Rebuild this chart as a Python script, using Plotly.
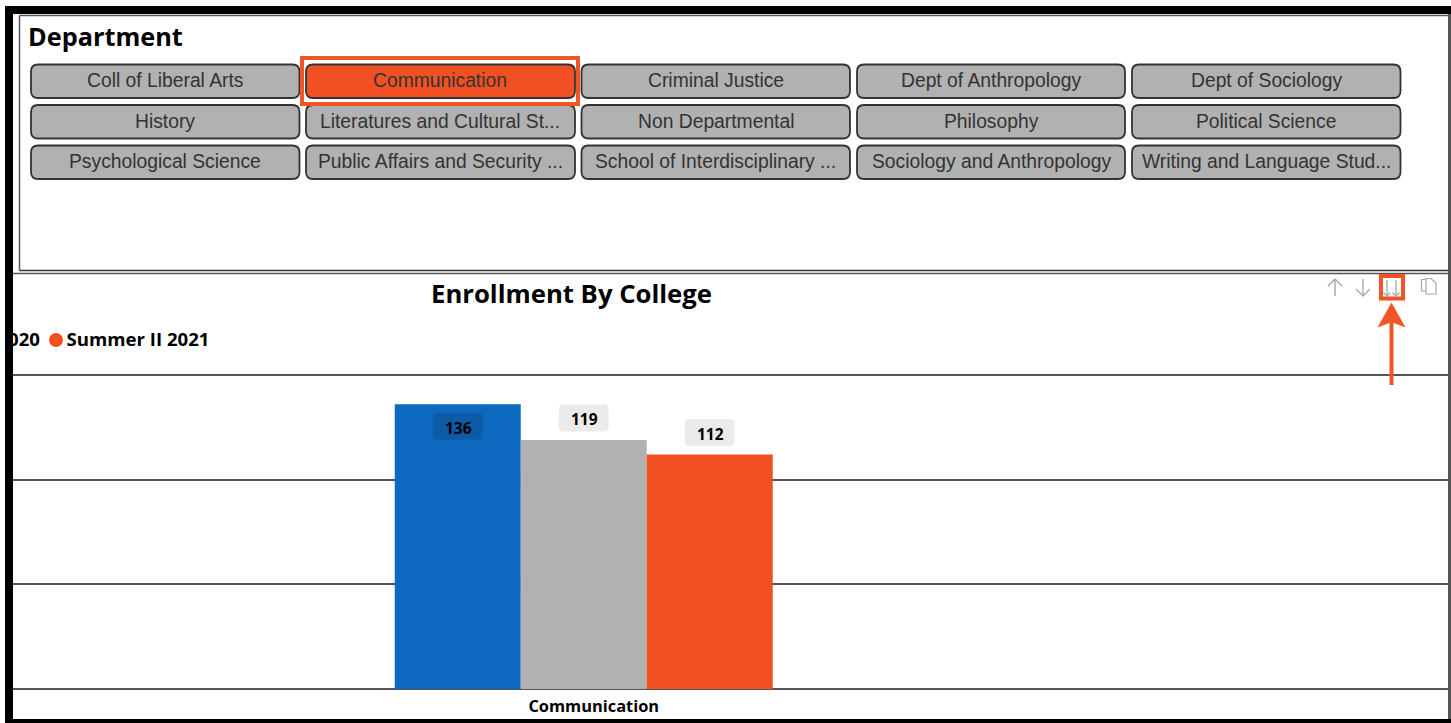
import plotly.graph_objects as go

# ---- data ----
categories = ["Communication"]
series_names = ["Summer II 2019", "Summer II 2020", "Summer II 2021"]
series_values = [[136], [119], [112]]
series_colors = ["#0D69BF", "#B1B1B1", "#F15122"]
chip_colors = ["#0D5AA6", "#EBEBEB", "#EBEBEB"]
y_ticks = [0, 50, 100, 150]

panel_title = "Department"
chart_title = "Enrollment By College"
departments = [
    ["Coll of Liberal Arts", "Communication", "Criminal Justice", "Dept of Anthropology", "Dept of Sociology"],
    ["History", "Literatures and Cultural St...", "Non Departmental", "Philosophy", "Political Science"],
    ["Psychological Science", "Public Affairs and Security ...", "School of Interdisciplinary ...",
     "Sociology and Anthropology", "Writing and Language Stud..."],
]
selected_department = "Communication"

# ---- page geometry (pixels) ----
W, H = 1451, 723
PLOT_LEFT, PLOT_RIGHT = 13, 1448
AXIS_TOP, AXIS_BOTTOM = 375, 689      # pixel rows of the highest and lowest gridline
AXIS_PAD = 5                          # keeps the outer gridlines inside the plot area
GROUP_CENTER, GROUP_WIDTH = 583.75, 378
BUTTON_X = [(31, 299.5), (306, 575), (581.5, 850), (857, 1125), (1132, 1400.5)]
BUTTON_Y = [(64.5, 98), (105, 138.5), (145.5, 179)]
LEGEND_TOP, LEGEND_BOTTOM = 325, 355
ACCENT = "#F25525"
TEXT_FONT = "Open Sans"


def fx(x):
    return x / W


def fy(y):
    return 1 - y / H


def rounded(x0, y0, x1, y1, r):
    return (
        f"M {fx(x0 + r)} {fy(y0)} L {fx(x1 - r)} {fy(y0)} Q {fx(x1)} {fy(y0)} {fx(x1)} {fy(y0 + r)} "
        f"L {fx(x1)} {fy(y1 - r)} Q {fx(x1)} {fy(y1)} {fx(x1 - r)} {fy(y1)} "
        f"L {fx(x0 + r)} {fy(y1)} Q {fx(x0)} {fy(y1)} {fx(x0)} {fy(y1 - r)} "
        f"L {fx(x0)} {fy(y0 + r)} Q {fx(x0)} {fy(y0)} {fx(x0 + r)} {fy(y0)} Z"
    )


def page_rect(x0, y0, x1, y1, fill=None, line=None, width=0):
    return dict(type="rect", xref="paper", yref="paper", x0=fx(x0), x1=fx(x1), y0=fy(y0), y1=fy(y1),
                fillcolor=fill or "rgba(0,0,0,0)", line=dict(color=line or "rgba(0,0,0,0)", width=width))


def page_path(points, color, width=1.5, fill=None):
    d = " ".join(("M" if i == 0 else "L") + f" {fx(x)} {fy(y)}" for i, (x, y) in enumerate(points))
    if fill:
        d += " Z"
    return dict(type="path", xref="paper", yref="paper", path=d,
                fillcolor=fill or "rgba(0,0,0,0)", line=dict(color=color, width=width))


def page_text(text, x, y, size, color="#000000", weight=400, family=TEXT_FONT, anchor="center"):
    return dict(text=text, xref="paper", yref="paper", x=fx(x), y=fy(y), xanchor=anchor, yanchor="middle",
                showarrow=False, font=dict(family=family, size=size, color=color, weight=weight))


shapes, notes = [], []

# outer frame and panel rules
shapes += [
    page_rect(5, 6, W, 14, fill="#000000"),
    page_rect(5, 6, 13, H, fill="#000000"),
    page_rect(5, 719, W, H, fill="#000000"),
    page_rect(1448, 14, W, 719, fill="#555555"),
    page_path([(19.5, 15.5), (1448, 15.5)], "#555555", 1.5),
    page_path([(19.5, 15.5), (19.5, 270.5)], "#555555", 1.5),
    page_path([(19.5, 270.5), (1448, 270.5)], "#333333", 1.5),
    page_path([(13, 273.5), (1448, 273.5)], "#555555", 1.5),
]

# department slicer
notes.append(page_text(panel_title, 26, 35.5, 25.3, weight=700, anchor="left"))
for (y0, y1), row in zip(BUTTON_Y, departments):
    for (x0, x1), name in zip(BUTTON_X, row):
        fill = series_colors[2] if name == selected_department else "#B1B1B1"
        shapes.append(dict(type="path", xref="paper", yref="paper", path=rounded(x0, y0, x1, y1, 7),
                           fillcolor=fill, line=dict(color="#333333", width=1.8)))
        notes.append(page_text(name, (x0 + x1) / 2, (y0 + y1) / 2 - 0.5, 19.3, color="#333333",
                               family="Liberation Sans"))
shapes.append(page_rect(302, 58, 578, 104, line=ACCENT, width=4))

# chart heading
notes.append(page_text(chart_title, 571.5, 293, 25.7, weight=700))

# visual-header icons
ICON = "#A8A8A8"
for cx, top, bottom, half in [(1335, 279, 296, 7)]:
    shapes.append(page_path([(cx, bottom), (cx, top)], ICON))
    shapes.append(page_path([(cx - half, top + half), (cx, top), (cx + half, top + half)], ICON))
for cx, top, bottom, half in [(1363, 279, 296, 7), (1387, 280, 296, 3.5), (1396, 280, 296, 3.5)]:
    shapes.append(page_path([(cx, top), (cx, bottom)], ICON, 1.3))
    shapes.append(page_path([(cx - half, bottom - half), (cx, bottom), (cx + half, bottom - half)], ICON, 1.3))
shapes.append(page_path([(1426, 283), (1426, 278.5), (1431, 278.5), (1436, 283), (1436, 294), (1426, 294), (1426, 283)], ICON, 1.2))
shapes.append(page_path([(1426, 291), (1421.5, 291), (1421.5, 279.5), (1426, 279.5)], ICON, 1.2))

# callout pointing at the "expand all" icon
shapes.append(page_rect(1381, 276, 1403, 298.5, line=ACCENT, width=4))
shapes.append(page_path([(1391.5, 385), (1391.5, 320)], ACCENT, 4))
shapes.append(page_path([(1391.5, 303), (1405, 327), (1391.5, 322), (1378, 327)], ACCENT, 0.5, fill=ACCENT))

# ---- axis scales ----
bar_gap = 0.4
px_per_unit = GROUP_WIDTH / (1 - bar_gap)
x_range = [(PLOT_LEFT - GROUP_CENTER) / px_per_unit, (PLOT_RIGHT - GROUP_CENTER) / px_per_unit]
bar_width = (1 - bar_gap) / len(series_values)
value_per_px = (y_ticks[-1] - y_ticks[0]) / (AXIS_BOTTOM - AXIS_TOP)
y_range = [y_ticks[0] - AXIS_PAD * value_per_px, y_ticks[-1] + AXIS_PAD * value_per_px]

fig = go.Figure()

# bars with their value chips: chips sit above a bar, except on the tallest, where it sits inside
for i, (name, values, color) in enumerate(zip(series_names, series_values, series_colors)):
    fig.add_bar(x=list(range(len(categories))), y=values, name=name, marker=dict(color=color, line=dict(width=0)))

    offset = (i - (len(series_values) - 1) / 2) * bar_width
    for value in values:
        s = -22 if value == max(v[0] for v in series_values) else 22
        shapes.append(dict(
            type="path", xref="x", yref="y", xsizemode="pixel", ysizemode="pixel",
            xanchor=offset, yanchor=value,
            path=(f"M -20 {s - 13.5} L 20 {s - 13.5} Q 25 {s - 13.5} 25 {s - 8.5} "
                  f"L 25 {s + 8.5} Q 25 {s + 13.5} 20 {s + 13.5} "
                  f"L -20 {s + 13.5} Q -25 {s + 13.5} -25 {s + 8.5} "
                  f"L -25 {s - 8.5} Q -25 {s - 13.5} -20 {s - 13.5} Z"),
            fillcolor=chip_colors[i], line=dict(width=0),
        ))
        notes.append(dict(text=str(value), xref="x", yref="y", x=offset, xshift=0.5, y=value, yshift=s - 1.5,
                          showarrow=False, xanchor="center", yanchor="middle",
                          font=dict(family=TEXT_FONT, size=15.5, color="#000000", weight=700)))

# legend strip: a scrolled row of entries, clipped at the plot's left edge
legend_font = dict(family=TEXT_FONT, size=18.6, color="#000000", weight=700)
fig.add_scatter(x=[40], y=[341.5], mode="text", text=[series_names[1]], textposition="middle left",
                textfont=legend_font, xaxis="x2", yaxis="y2", cliponaxis=True, showlegend=False)
fig.add_scatter(x=[66.5], y=[341.5], mode="text", text=[series_names[2]], textposition="middle right",
                textfont=legend_font, xaxis="x2", yaxis="y2", cliponaxis=True, showlegend=False)
fig.add_scatter(x=[56], y=[340], mode="markers", marker=dict(size=14, color=series_colors[2], line=dict(width=0)),
                xaxis="x2", yaxis="y2", cliponaxis=True, showlegend=False)

fig.update_layout(
    width=W, height=H, autosize=False,
    margin=dict(l=0, r=0, t=0, b=0),
    paper_bgcolor="#FFFFFF", plot_bgcolor="rgba(0,0,0,0)",
    barmode="group", bargap=bar_gap, bargroupgap=0,
    showlegend=False,
    shapes=shapes, annotations=notes,
    xaxis=dict(
        domain=[fx(PLOT_LEFT), fx(PLOT_RIGHT)], range=x_range, type="linear",
        tickmode="array", tickvals=list(range(len(categories))), ticktext=categories,
        showgrid=False, zeroline=False, ticks="", showline=False,
        ticklabelshift=10, ticklabelstandoff=1,
        tickfont=dict(family=TEXT_FONT, size=16.4, color="#000000", weight=700),
    ),
    yaxis=dict(
        domain=[fy(AXIS_BOTTOM + AXIS_PAD), fy(AXIS_TOP - AXIS_PAD)], range=y_range,
        tickmode="array", tickvals=y_ticks, showticklabels=False, ticks="",
        showgrid=True, gridcolor="#555555", gridwidth=1.5, zeroline=False, showline=False,
    ),
    xaxis2=dict(domain=[fx(PLOT_LEFT), fx(PLOT_RIGHT)], range=[PLOT_LEFT, PLOT_RIGHT],
                anchor="y2", visible=False),
    yaxis2=dict(domain=[fy(LEGEND_BOTTOM), fy(LEGEND_TOP)], range=[LEGEND_BOTTOM, LEGEND_TOP],
                anchor="x2", visible=False),
)

fig.write_html("out.html", config=dict(displayModeBar=False))
